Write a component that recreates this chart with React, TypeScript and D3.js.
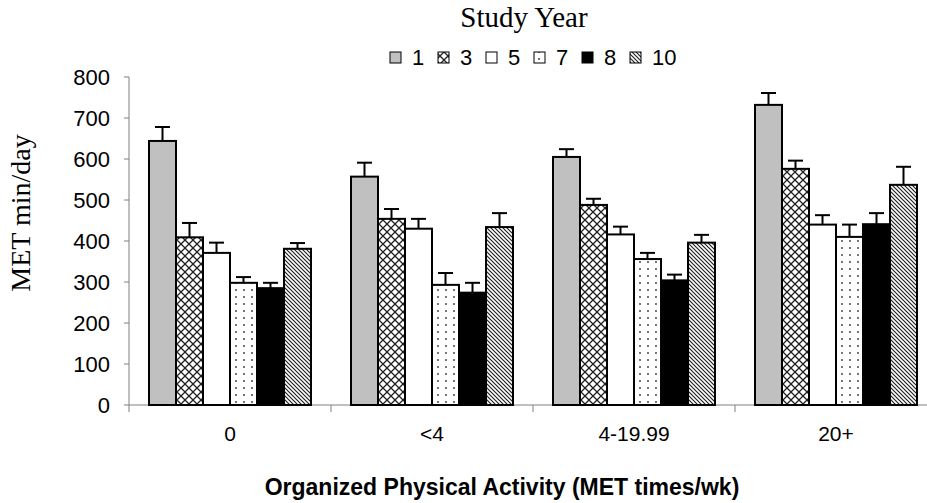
import React, { useEffect, useRef } from 'react';
import * as d3 from 'd3';

const categories = ["0", "<4", "4-19.99", "20+"];
const years = ["1", "3", "5", "7", "8", "10"];

// mean MET min/day per study year, one value per activity category
const year1 = [644, 557, 605, 732];
const year3 = [409, 454, 488, 576];
const year5 = [371, 430, 416, 440];
const year7 = [298, 293, 356, 410];
const year8 = [285, 274, 304, 441];
const year10 = [381, 434, 396, 537];

// standard error (upper whisker only)
const err1 = [34, 34, 19, 29];
const err3 = [35, 24, 15, 20];
const err5 = [25, 24, 19, 23];
const err7 = [14, 29, 15, 30];
const err8 = [13, 24, 14, 27];
const err10 = [14, 34, 19, 44];

const yTicks = [0, 100, 200, 300, 400, 500, 600, 700, 800];

export default function App() {
    const ref = useRef<SVGSVGElement>(null);

    useEffect(() => {
        const svg = d3.select(ref.current);
        svg.selectAll("*").remove();

        const series = [year1, year3, year5, year7, year8, year10];
        const errs = [err1, err3, err5, err7, err8, err10];
        const fills = ["#c0c0c0", "url(#cross)", "#ffffff", "url(#dots)", "#000000", "url(#hatch)"];
        const sans = "'Liberation Sans', Arial, sans-serif";
        const serif = "'Liberation Serif', 'Times New Roman', serif";

        // patterns
        const defs = svg.append("defs");
        const cross = defs.append("pattern").attr("id", "cross")
            .attr("patternUnits", "userSpaceOnUse").attr("width", 8).attr("height", 8);
        cross.append("rect").attr("width", 8).attr("height", 8).attr("fill", "#fff");
        cross.append("path").attr("d", "M0,0L8,8M8,0L0,8").attr("stroke", "#222").attr("stroke-width", 1.3);

        const dots = defs.append("pattern").attr("id", "dots")
            .attr("patternUnits", "userSpaceOnUse").attr("width", 8).attr("height", 7);
        dots.append("rect").attr("width", 8).attr("height", 7).attr("fill", "#fff");
        dots.append("circle").attr("cx", 3).attr("cy", 3).attr("r", 0.9).attr("fill", "#333");

        const hatch = defs.append("pattern").attr("id", "hatch")
            .attr("patternUnits", "userSpaceOnUse").attr("width", 4).attr("height", 4);
        hatch.append("rect").attr("width", 4).attr("height", 4).attr("fill", "#fff");
        hatch.append("path").attr("d", "M-1,-1L5,5M-1,3L1,5M3,-1L5,1").attr("stroke", "#222").attr("stroke-width", 1.2);

        const x0 = d3.scaleBand().domain(categories).range([129, 937]).padding(0);
        const x1 = d3.scaleBand().domain(years).range([20, 182]).padding(0);
        const y = d3.scaleLinear().domain([0, 800]).range([405, 77]);

        // axes
        svg.append("line").attr("x1", 129).attr("x2", 940).attr("y1", y(0)).attr("y2", y(0))
            .attr("stroke", "#808080").attr("stroke-width", 1);
        svg.append("line").attr("x1", 129).attr("x2", 129).attr("y1", y(0)).attr("y2", y(800))
            .attr("stroke", "#808080").attr("stroke-width", 1);

        yTicks.forEach(t => {
            svg.append("line").attr("x1", 124).attr("x2", 129).attr("y1", y(t)).attr("y2", y(t))
                .attr("stroke", "#808080");
            svg.append("text").attr("x", 110).attr("y", y(t)).attr("dy", "0.36em")
                .attr("text-anchor", "end").attr("font-family", sans).attr("font-size", 22)
                .text(t);
        });

        categories.forEach(c => {
            const bx = x0(c)!;
            svg.append("line").attr("x1", bx).attr("x2", bx).attr("y1", y(0)).attr("y2", y(0) + 7)
                .attr("stroke", "#808080");
            svg.append("text").attr("x", bx + x0.bandwidth() / 2).attr("y", 441)
                .attr("text-anchor", "middle").attr("font-family", sans).attr("font-size", 21)
                .text(c);
        });

        // bars + error bars
        categories.forEach((c, ci) => {
            const g = svg.append("g").attr("transform", `translate(${x0(c)},0)`);
            years.forEach((yr, si) => {
                const v = series[si][ci];
                const e = errs[si][ci];
                const bx = x1(yr)!;
                const cx = bx + x1.bandwidth() / 2;
                g.append("line").attr("x1", cx).attr("x2", cx).attr("y1", y(v)).attr("y2", y(v + e))
                    .attr("stroke", "#000").attr("stroke-width", 2);
                g.append("line").attr("x1", cx - 7.5).attr("x2", cx + 7.5).attr("y1", y(v + e)).attr("y2", y(v + e))
                    .attr("stroke", "#000").attr("stroke-width", 2);
                g.append("rect").attr("x", bx).attr("y", y(v))
                    .attr("width", x1.bandwidth()).attr("height", y(0) - y(v))
                    .attr("fill", fills[si]).attr("stroke", "#000").attr("stroke-width", 2);
            });
        });

        // titles
        svg.append("text").attr("x", 524).attr("y", 27).attr("text-anchor", "middle")
            .attr("font-family", serif).attr("font-size", 29).text("Study Year");

        svg.append("text").attr("transform", "translate(30,213) rotate(-90)")
            .attr("text-anchor", "middle").attr("font-family", serif).attr("font-size", 28)
            .text("MET min/day");

        svg.append("text").attr("x", 502).attr("y", 495).attr("text-anchor", "middle")
            .attr("font-family", sans).attr("font-size", 23).attr("font-weight", "bold")
            .text("Organized Physical Activity (MET times/wk)");

        // legend
        years.forEach((yr, i) => {
            const lx = 390 + i * 48;
            svg.append("rect").attr("x", lx).attr("y", 52).attr("width", 11).attr("height", 11)
                .attr("fill", fills[i]).attr("stroke", "#000").attr("stroke-width", 1);
            svg.append("text").attr("x", lx + 22).attr("y", 65)
                .attr("font-family", sans).attr("font-size", 22).text(yr);
        });
    }, []);

    return (
        <svg ref={ref} width={927} height={503}
            style={{ position: 'absolute', left: 0, top: 0, background: '#fff' }} />
    );
}
